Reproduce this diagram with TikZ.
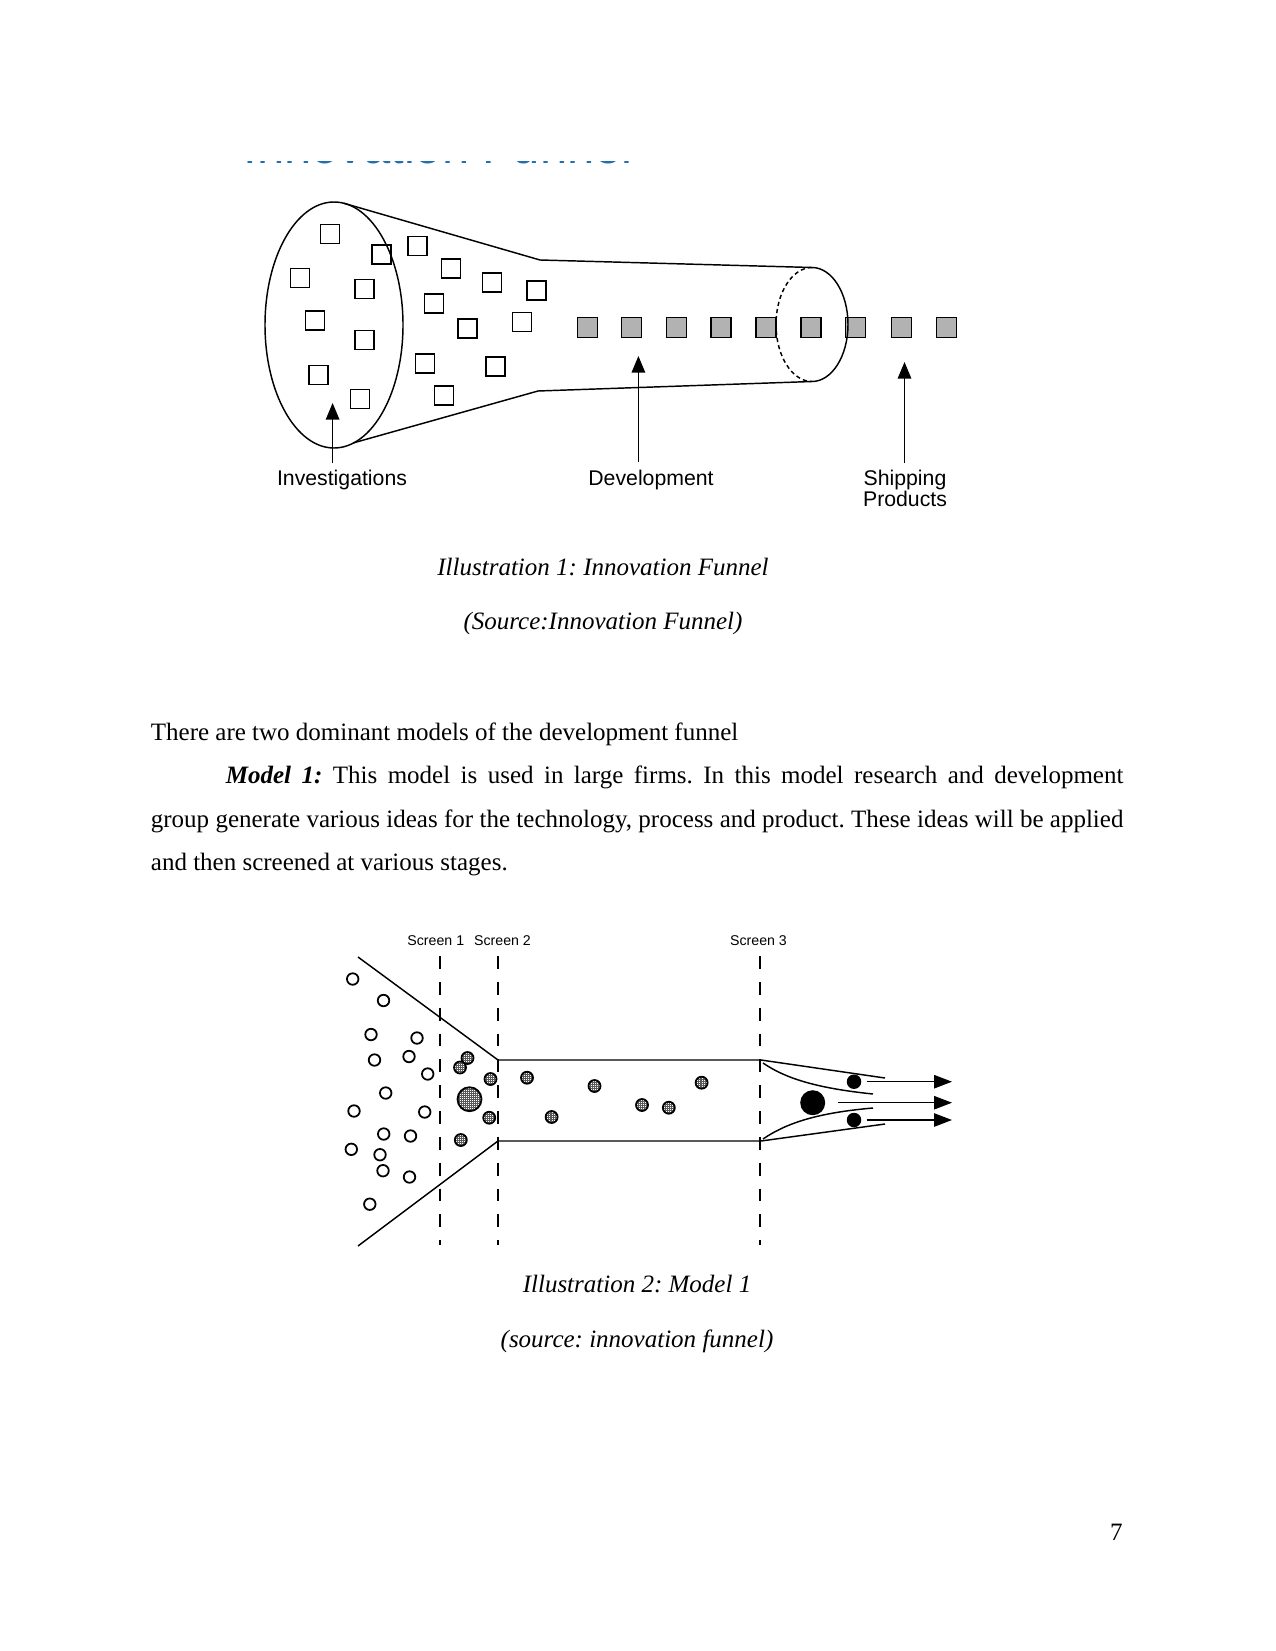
\documentclass[tikz,border=0pt]{standalone}
\usepackage{fontspec}
\setmainfont{Liberation Serif}
\setsansfont{Liberation Sans}
\usetikzlibrary{arrows.meta}
\frenchspacing

\definecolor{titleblue}{RGB}{35,110,175}
\newcommand\pxu{0.48pt}

\tikzset{
  funnelline/.style={line width=0.7pt},
  ideabox/.style={draw, line width=0.7pt, minimum size=19*\pxu, inner sep=0},
  devbox/.style={draw, fill=black!30, line width=0.7pt, minimum size=20*\pxu, inner sep=0},
  pointer/.style={line width=0.7pt, -{Triangle[length=8pt,width=6.5pt]}},
  outarrow/.style={line width=0.7pt, -{Triangle[length=8.6pt,width=6.4pt]}},
  sketchlabel/.style={anchor=base, inner sep=0, font=\sffamily\fontsize{10.2}{12}\selectfont},
  screenlabel/.style={anchor=base, inner sep=0, font=\sffamily\fontsize{6.8}{8}\selectfont},
  screenline/.style={line width=0.7pt, dash pattern=on 6.2pt off 6.2pt},
  idea/.style={circle, draw, line width=0.85pt, minimum size=11.5*\pxu, inner sep=0},
  prelim/.style={circle, draw, line width=0.85pt, minimum size=#1*\pxu, inner sep=0,
    path picture={\draw[black!65, line width=0.12pt, step=0.95pt]
      (path picture bounding box.south west) grid (path picture bounding box.north east);}},
  prelim/.default=12,
  winner/.style={circle, fill=black, minimum size=#1*\pxu, inner sep=0},
  caption/.style={anchor=base, inner sep=0, font=\itshape\fontsize{12}{14}\selectfont},
  bodyline/.style={anchor=base west, inner sep=0, font=\fontsize{12}{14}\selectfont}
}

\begin{document}
\begin{tikzpicture}[x=0.48pt, y=-0.48pt]

\path[use as bounding box, fill=white] (0,0) rectangle (1275,1651);

%% heading, cut off at the top
\begin{scope}
\clip (230,161.2) rectangle (660,164.2);
\node[anchor=base west, inner sep=0, text=titleblue,
  font=\sffamily\fontsize{23.5}{28}\selectfont] (head) at (243,163.8) {Innovation Funnel};
\end{scope}

%% innovation funnel
\draw[funnelline] (334,325) ellipse [x radius=69*\pxu, y radius=123*\pxu];
\draw[funnelline] (344,203.3) -- (540,260) -- (812,267.5);
\draw[funnelline] (353,443) -- (538,391) -- (812,381.5);

\foreach \x/\y [count=\i] in {330/234, 381.7/254.3, 417.6/246, 451/268.7, 300/278,
  364.7/289, 491.8/282.7, 536.5/290.7, 434/303.3, 315/320.7, 467.6/328.7, 522/322,
  364.7/340, 425/363.3, 495.7/366.7, 318.5/375, 359.8/399, 443.8/395.3}
  \node[ideabox] (sq\i) at (\x,\y) {};

\foreach \x [count=\i] in {587.5, 631.7, 676.3, 721, 766, 810.8, 855.4, 901.5, 946.7}
  \node[devbox] (dev\i) at (\x,327.3) {};

\draw[funnelline] (812,267.5) arc[start angle=90, end angle=-90, x radius=36*\pxu, y radius=57*\pxu];
\draw[funnelline, dash pattern=on 2pt off 1.5pt]
  (812,267.5) arc[start angle=90, end angle=270, x radius=36*\pxu, y radius=57*\pxu];

\node[sketchlabel] (invlab) at (342,485) {Investigations};
\node[sketchlabel] (devlab) at (651,485) {Development};
\node[sketchlabel] (shiplab) at (905,485) {Shipping};
\node[sketchlabel] (prodlab) at (905,506.5) {Products};

\coordinate (invtail) at (332.6,463);
\coordinate (invtip) at (332.6,403);
\coordinate (devtail) at (638.4,462);
\coordinate (devtip) at (638.4,356);
\coordinate (shiptail) at (904.5,463);
\coordinate (shiptip) at (904.5,362);
\draw[pointer] (invtail) -- (invtip);
\draw[pointer] (devtail) -- (devtip);
\draw[pointer] (shiptail) -- (shiptip);

\node[caption] (cap1) at (603,575.5) {Illustration 1: Innovation Funnel};
\node[caption] (src1) at (603,629.5) {(Source:Innovation Funnel)};

%% text
\node[bodyline] (line1) at (150.5,740) {There are two dominant models of the development funnel};
\node[bodyline] (line2) at (150.5,783.5) {\makebox[466.8pt][s]{\hspace*{36pt}\textbf{\textit{Model 1:}}
  This model is used in large firms. In this model research and development}};
\node[bodyline] (line3) at (150.5,827) {\makebox[466.8pt][s]{group generate various ideas for the
  technology, process and product. These ideas will be applied}};
\node[bodyline] (line4) at (150.5,870.5) {and then screened at various stages.};

%% model 1
\node[screenlabel] (s1lab) at (435.8,945) {Screen 1};
\node[screenlabel] (s2lab) at (502.5,945) {Screen 2};
\node[screenlabel] (s3lab) at (758.5,945) {Screen 3};
\coordinate (s1top) at (440,956);  \coordinate (s1bot) at (440,1245);
\coordinate (s2top) at (498,956);  \coordinate (s2bot) at (498,1245);
\coordinate (s3top) at (760,956);  \coordinate (s3bot) at (760,1245);
\draw[screenline] (s1top) -- (s1bot);
\draw[screenline] (s2top) -- (s2bot);
\draw[screenline] (s3top) -- (s3bot);

\draw[funnelline] (358,957) -- (498,1060) -- (761,1060) -- (885,1078);
\draw[funnelline] (358,1246) -- (498,1141) -- (761,1141) -- (885,1124);
\draw[funnelline] (763,1063) .. controls (785,1078) and (815,1088) .. (873,1094);
\draw[funnelline] (763,1139) .. controls (785,1124) and (815,1113) .. (873,1108);

\foreach \x/\y [count=\i] in {352.7/979, 383.5/1000.5, 371/1034.5, 417/1038, 374.5/1060,
  409/1056.5, 427.7/1074, 385.7/1093, 354/1111, 424.7/1112, 383.7/1134, 410.5/1136,
  351.3/1149.3, 380/1154.7, 383/1170.7, 409.5/1177, 369.8/1204.2}
  \node[idea] (o\i) at (\x,\y) {};

\foreach \x/\y [count=\i] in {467.5/1058, 460/1067.5, 490.5/1079, 489.2/1117.7, 460.8/1140,
  527/1077.7, 551.6/1117, 594.5/1086, 642/1105, 668.8/1107.7, 701.6/1082.7}
  \node[prelim] (h\i) at (\x,\y) {};
\node[prelim=24] (hbig) at (469.5,1099.2) {};

\node[winner=25] (wbig) at (812.7,1102.7) {};
\node[winner=14.5] (wtop) at (854,1081.7) {};
\node[winner=14.5] (wbot) at (854,1120) {};

\coordinate (outtop) at (952,1081.7);
\coordinate (outmid) at (952,1102.7);
\coordinate (outbot) at (952,1120);
\draw[outarrow] ([xshift=2.4pt]wtop.east) -- (outtop);
\draw[outarrow] ([xshift=5.7pt]wbig.east) -- (outmid);
\draw[outarrow] ([xshift=2.4pt]wbot.east) -- (outbot);

\node[caption] (cap2) at (637,1292.5) {Illustration 2: Model 1};
\node[caption] (src2) at (637,1347.5) {(source: innovation funnel)};

\node[anchor=base east, inner sep=0, font=\fontsize{12}{14}\selectfont] (pageno) at (1123,1540) {7};

\end{tikzpicture}
\end{document}
